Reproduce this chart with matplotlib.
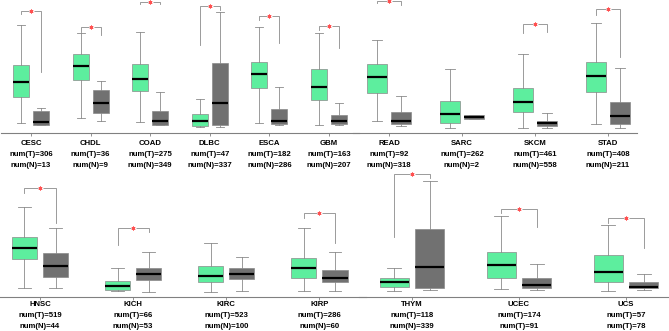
import matplotlib
matplotlib.use("Agg")
import matplotlib.pyplot as plt

# ---------------- data (arbitrary expression units) ----------------
# each group: cancer names, counts, tumour box stats, normal box stats
# stats order: [whisker_low, q1, median, q3, whisker_high]
g1_names = ["CESC", "CHDL", "COAD", "DLBC", "ESCA", "GBM"]
g1_nT = [306, 36, 275, 47, 182, 163]
g1_nN = [13, 9, 349, 337, 286, 207]
g1_T = [[1.0, 3.6, 5.1, 6.8, 10.8], [1.5, 5.3, 6.7, 7.9, 10.0], [1.1, 4.2, 5.4, 6.9, 10.1],
        [0.6, 0.7, 1.2, 1.9, 3.4], [1.0, 4.5, 5.9, 7.1, 10.6], [0.8, 3.3, 4.6, 6.4, 10.0]]
g1_N = [[0.8, 0.8, 1.1, 2.2, 2.5], [1.2, 2.0, 3.0, 4.3, 5.2], [0.8, 0.8, 1.2, 2.2, 4.1],
        [0.6, 0.8, 3.0, 7.0, 12.1], [0.8, 0.9, 1.2, 2.4, 4.6], [0.8, 0.9, 1.2, 1.8, 3.0]]
# significance bracket: [bracket level, tumour top, normal top] (None = not significant)
g1_sig = [[12.2, 11.9, 6.1], [10.6, 10.1, 9.8], [13.1, 12.9, 12.9],
          [12.7, 8.8, 12.3], [11.7, 11.3, 9.0], [10.7, 10.3, 8.5]]

g2_names = ["READ", "SARC", "SKCM", "STAD"]
g2_nT = [92, 262, 461, 408]
g2_nN = [318, 2, 558, 211]
g2_T = [[1.2, 4.0, 5.6, 6.9, 9.3], [0.5, 1.0, 1.9, 3.2, 6.4],
        [0.5, 2.1, 3.1, 4.5, 7.9], [0.9, 4.1, 5.7, 7.1, 11.0]]
g2_N = [[0.7, 0.9, 1.2, 2.1, 3.7], [1.4, 1.4, 1.6, 1.8, 1.8],
        [0.5, 0.7, 1.0, 1.2, 2.0], [0.5, 0.9, 1.7, 3.1, 6.5]]
g2_sig = [[13.2, 13.0, 12.8], None, [10.9, 10.0, 10.1], [12.4, 11.8, 7.6]]

g3_names = ["HNSC", "KICH", "KIRC", "KIRP"]
g3_nT = [519, 66, 523, 286]
g3_nN = [44, 53, 100, 60]
g3_T = [[0.9, 3.8, 4.9, 6.0, 9.0], [0.6, 0.7, 1.1, 1.6, 2.9],
        [0.5, 1.5, 2.1, 3.1, 5.4], [0.6, 1.9, 2.9, 3.9, 6.9]]
g3_N = [[0.9, 2.0, 3.1, 4.4, 6.9], [0.5, 1.7, 2.3, 2.9, 4.5],
        [0.6, 1.8, 2.3, 2.9, 4.0], [0.6, 1.5, 1.9, 2.7, 4.5]]
g3_sig = [[10.9, 10.4, 7.4], [6.9, 5.2, 6.5], None, [8.4, 7.9, 5.4]]

g4_names = ["THYM", "UCEC", "UCS"]
g4_nT = [118, 174, 57]
g4_nN = [339, 91, 78]
g4_Nlab = ["num(N)", "num(T)", "num(T)"]   # second-line prefixes as printed
g4_T = [[0.6, 1.0, 1.5, 1.9, 2.9], [0.8, 1.9, 3.2, 4.5, 8.1], [0.6, 1.5, 2.5, 4.2, 7.2]]
g4_N = [[0.7, 0.9, 3.0, 6.8, 11.6], [0.7, 0.9, 1.2, 1.9, 3.3], [0.7, 0.9, 1.0, 1.5, 2.3]]
g4_sig = [[12.3, 6.0, 11.9], [8.8, 8.4, 7.0], [7.9, 7.4, 4.9]]

# ---------------- style ----------------
W, H = 669, 331
GREEN = "#5DEE9E"
GREY = "#717171"
EDGE = "#8a8a8a"
LINE = "#8a8a8a"
FONT = ["Liberation Sans", "DejaVu Sans"]

fig = plt.figure(figsize=(W / 100, H / 100), dpi=100)


def add_axes(x0, x1, ybase, ytop):
    return fig.add_axes([x0 / W, 1 - ybase / H, (x1 - x0) / W, (ybase - ytop) / H])


def stats(v, label):
    return dict(whislo=v[0], q1=v[1], med=v[2], q3=v[3], whishi=v[4], label=label, fliers=[])


def draw_group(ax, names, nT, nN, T, N, sig, ylim, offs, nlab=None):
    n = len(names)
    ax.set_xlim(-0.5, n - 0.5)
    ax.set_ylim(0, ylim)
    d = 0.167
    bw = 0.27
    for fill, data, sgn in ((GREEN, T, -1), (GREY, N, 1)):
        pos = [i + sgn * d for i in range(n)]
        ax.bxp([stats(v, "") for v in data], positions=pos, widths=bw,
               capwidths=bw * 0.5, patch_artist=True, showfliers=False,
               boxprops=dict(facecolor=fill, edgecolor=EDGE, linewidth=0.5),
               medianprops=dict(color="black", linewidth=1.6),
               whiskerprops=dict(color=EDGE, linewidth=0.6),
               capprops=dict(color=EDGE, linewidth=0.6), manage_ticks=False)
    for i, s in enumerate(sig):
        if s is None:
            continue
        lvl, tt, nt = s
        xl, xr = i - d, i + d
        ax.plot([xl, xl, xr, xr], [tt, lvl, lvl, nt], color=LINE, lw=0.6,
                clip_on=False, solid_joinstyle="miter")
        ax.plot([i], [lvl], marker="s", ms=3.6, color="white", mec="none",
                clip_on=False, zorder=5)
        ax.plot([i], [lvl], marker=(6, 2, 0), ms=2.8, color="#ff5050", mew=0.6,
                clip_on=False, zorder=6)
    for sp in ("top", "right", "left"):
        ax.spines[sp].set_visible(False)
    ax.spines["bottom"].set_color("#808080")
    ax.spines["bottom"].set_linewidth(0.8)
    ax.set_yticks([])
    ax.set_xticks(range(n))
    ax.set_xticklabels([])
    ax.tick_params(axis="x", length=2.2, width=0.6, color="#808080")
    ax.patch.set_alpha(0)
    for i in range(n):
        lab2 = "num(N)" if nlab is None else nlab[i]
        lines = [names[i], "num(T)=%d" % nT[i], "%s=%d" % (lab2, nN[i])]
        for txt, o in zip(lines, offs):
            ax.annotate(txt, xy=(i, 0), xycoords="data", xytext=(0, -o * 0.72),
                        textcoords="offset points", ha="center", va="center",
                        fontsize=5.6, fontweight="bold", family=FONT, annotation_clip=False)


ax1 = add_axes(1.2, 358.8, 133.3, 0)
draw_group(ax1, g1_names, g1_nT, g1_nN, g1_T, g1_N, g1_sig, 13.33, (10, 21, 32))
ax2 = add_axes(352.5, 644.5, 133.3, 0)
draw_group(ax2, g2_names, g2_nT, g2_nN, g2_T, g2_N, g2_sig, 13.33, (10, 21, 32))
ax2.spines["bottom"].set_bounds(-0.5, 3.4)
ax3 = add_axes(-6.6, 366.0, 297.3, 165.3)
draw_group(ax3, g3_names, g3_nT, g3_nN, g3_T, g3_N, g3_sig, 13.2, (7, 18, 29))
ax4 = add_axes(358.5, 679.5, 297.3, 165.3)
draw_group(ax4, g4_names, g4_nT, g4_nN, g4_T, g4_N, g4_sig, 13.2, (7, 18, 29), nlab=g4_Nlab)

fig.savefig("out.png", dpi=100, facecolor="white")
